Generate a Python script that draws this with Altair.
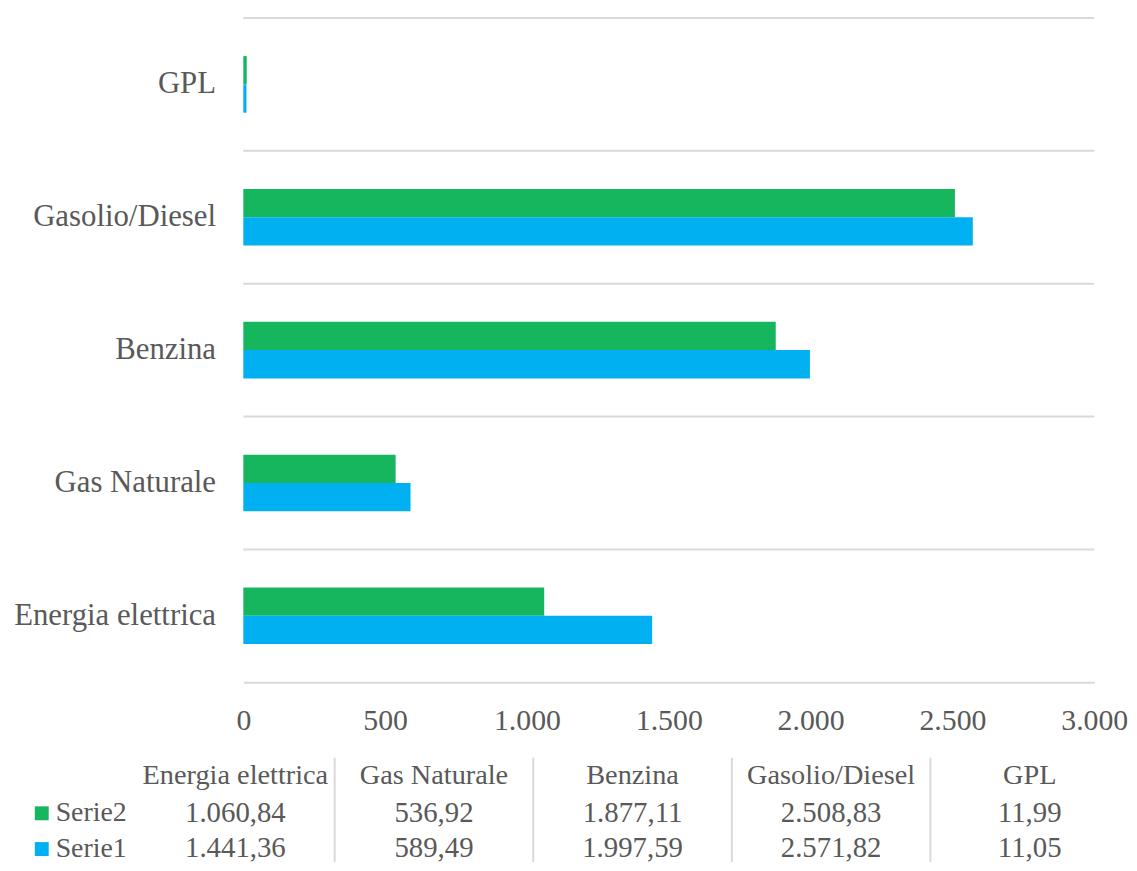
import altair as alt
import pandas as pd

# ---- data ----
categories = ["Energia elettrica", "Gas Naturale", "Benzina", "Gasolio/Diesel", "GPL"]
serie1 = [1441.36, 589.49, 1997.59, 2571.82, 11.05]
serie2 = [1060.84, 536.92, 1877.11, 2508.83, 11.99]
series_names = ["Serie2", "Serie1"]
series_colors = ["#16B65E", "#00B0F0"]
x_ticks = [0, 500, 1000, 1500, 2000, 2500, 3000]
table_rows = ["hdr", "Serie2", "Serie1"]

FONT = "Liberation Serif"
GRAY = "#595959"
LINE = "#D9D9D9"


def it_fmt(v):
    s = f"{v:,.2f}"
    return s.replace(",", "#").replace(".", ",").replace("#", ".")


rows = []
for c, a, b in zip(categories, serie1, serie2):
    rows.append({"cat": c, "serie": "Serie2", "value": b})
    rows.append({"cat": c, "serie": "Serie1", "value": a})
df = pd.DataFrame(rows)

cat_order = categories[::-1]
sep_scale = alt.Scale(domain=cat_order, paddingInner=0, paddingOuter=0)
bar_scale = alt.Scale(domain=cat_order, paddingInner=0.574, paddingOuter=0.287)
color_scale = alt.Scale(domain=series_names, range=series_colors)

seps = alt.Chart(pd.DataFrame({"cat": categories})).mark_rule(
    color=LINE, strokeWidth=2
).encode(y=alt.Y("cat:N", scale=sep_scale, bandPosition=0, axis=None))

bars = alt.Chart(df).mark_bar().encode(
    x=alt.X(
        "value:Q",
        scale=alt.Scale(domain=[0, 3000]),
        axis=alt.Axis(
            values=x_ticks,
            labelExpr="replace(format(datum.value, ','), ',', '.')",
            grid=False, ticks=False, domain=True, domainColor=LINE, domainWidth=2,
            labelFont=FONT, labelFontSize=30, labelColor=GRAY, labelPadding=24,
            labelFlush=False, labelOverlap=False, title=None,
        ),
    ),
    y=alt.Y(
        "cat:N", scale=bar_scale,
        axis=alt.Axis(
            title=None, ticks=False, domain=False, grid=False,
            labelFont=FONT, labelFontSize=31, labelColor=GRAY, labelPadding=28,
            labelLimit=400, minExtent=230, maxExtent=230,
        ),
    ),
    yOffset=alt.YOffset("serie:N", scale=alt.Scale(domain=series_names, paddingInner=0, paddingOuter=0)),
    color=alt.Color("serie:N", scale=color_scale, legend=None),
)

top = alt.layer(seps, bars).resolve_scale(y="independent").properties(width=857, height=669)

# ---- data table ----
hdr_df = pd.DataFrame({"col": categories, "row": "hdr", "txt": categories})
vrows = []
for c, v in zip(categories, serie2):
    vrows.append({"col": c, "row": "Serie2", "txt": it_fmt(v), "serie": "Serie2"})
for c, v in zip(categories, serie1):
    vrows.append({"col": c, "row": "Serie1", "txt": it_fmt(v), "serie": "Serie1"})
val_df = pd.DataFrame(vrows)

# the data table starts left of the bar plot (under the category labels)
tx = alt.Scale(domain=categories, paddingInner=0, paddingOuter=0, range=[-108, 892])
ty = alt.Scale(domain=table_rows, paddingInner=0, paddingOuter=0)

thdr = alt.Chart(hdr_df).mark_text(font=FONT, fontSize=28.5, color=GRAY).encode(
    x=alt.X("col:N", scale=tx, axis=None),
    y=alt.Y("row:N", scale=ty, axis=None),
    text="txt:N",
)

tval = alt.Chart(val_df).mark_text(font=FONT, fontSize=29, color=GRAY, dy=3).encode(
    x=alt.X("col:N", scale=tx, axis=None),
    y=alt.Y("row:N", scale=ty, axis=None),
    text="txt:N",
)

tsep = alt.Chart(pd.DataFrame({"col": categories[1:]})).mark_rule(
    color=LINE, strokeWidth=2
).encode(x=alt.X("col:N", scale=tx, bandPosition=0, axis=None))

tleg = alt.Chart(val_df).mark_point(filled=True, opacity=0).encode(
    x=alt.X("col:N", scale=tx, axis=None),
    y=alt.Y("row:N", scale=ty, axis=None),
    color=alt.Color(
        "serie:N", scale=color_scale,
        legend=alt.Legend(
            orient="none", legendX=-217, legendY=42, title=None,
            symbolType="square", symbolSize=196, symbolOpacity=1, symbolStrokeWidth=0,
            labelFont=FONT, labelFontSize=28, labelColor=GRAY, rowPadding=8, labelOffset=0,
        ),
    ),
)

table = alt.layer(tsep, thdr, tval, tleg).properties(width=892, height=105)

chart = (
    alt.vconcat(top, table, spacing=21)
    .resolve_scale(color="independent")
    .resolve_legend(color="independent")
    .properties(padding={"left": 5, "top": 6, "right": 0, "bottom": 0}, background="white")
    .configure_view(stroke=None)
)

chart.save("out.html", embed_options={"renderer": "svg", "actions": False})
